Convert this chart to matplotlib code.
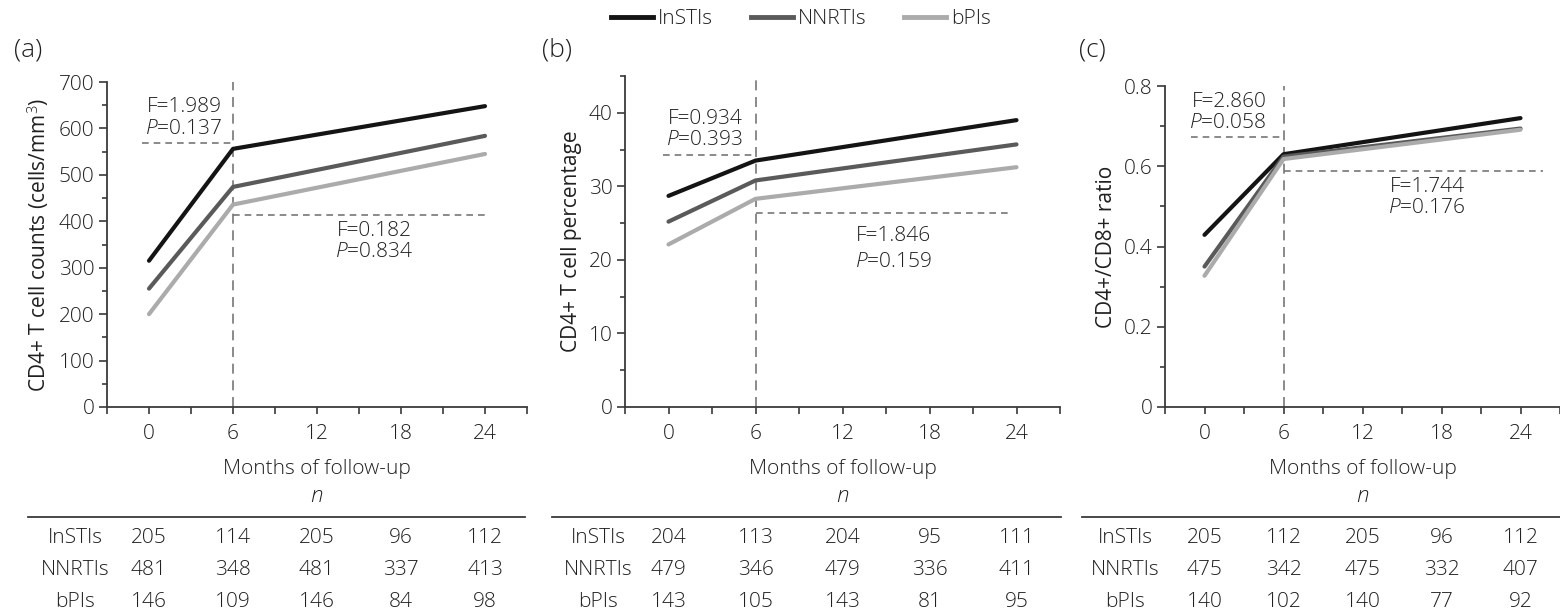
import matplotlib
matplotlib.use("Agg")
import matplotlib.pyplot as plt
from matplotlib.lines import Line2D
from matplotlib.transforms import blended_transform_factory

# Données
months = [0, 6, 24]
table_months = [0, 6, 12, 18, 24]
groups = ["InSTIs", "NNRTIs", "bPIs"]
colors = ["#141414", "#5a5a5a", "#ababab"]

# (a) CD4+ T cell counts
a_instis = [315, 556, 648]
a_nnrtis = [255, 474, 584]
a_bpis = [200, 436, 545]
# (b) CD4+ T cell percentage
b_instis = [28.7, 33.5, 39.0]
b_nnrtis = [25.2, 30.8, 35.7]
b_bpis = [22.1, 28.3, 32.6]
# (c) CD4+/CD8+ ratio
c_instis = [0.429, 0.630, 0.720]
c_nnrtis = [0.350, 0.624, 0.694]
c_bpis = [0.327, 0.618, 0.691]

# niveaux des lignes pointillées (avant / après 6 mois)
a_ref = [568, 414]
b_ref = [34.3, 26.4]
c_ref = [0.674, 0.589]

a_stats = [("1.989", "0.137"), ("0.182", "0.834")]
b_stats = [("0.934", "0.393"), ("1.846", "0.159")]
c_stats = [("2.860", "0.058"), ("1.744", "0.176")]

# effectifs n
a_n = [[205, 114, 205, 96, 112], [481, 348, 481, 337, 413], [146, 109, 146, 84, 98]]
b_n = [[204, 113, 204, 95, 111], [479, 346, 479, 336, 411], [143, 105, 143, 81, 95]]
c_n = [[205, 112, 205, 96, 112], [475, 342, 475, 332, 407], [140, 102, 140, 77, 92]]

FONT = 'Open Sans'
plt.rcParams['font.family'] = [FONT, 'DejaVu Sans']
plt.rcParams['font.weight'] = 'light'
plt.rcParams['mathtext.fontset'] = 'custom'
plt.rcParams['mathtext.rm'] = FONT + ':light'
plt.rcParams['mathtext.it'] = FONT + ':italic:light'
FS = 15
plt.rcParams['font.size'] = FS
TXT = "#202020"
AX = "#3a3a3a"

W, H = 1560, 615
fig = plt.figure(figsize=(W / 100, H / 100), dpi=100)


def px(x0, y0, x1, y1):
    # rectangle en pixels (origine en haut à gauche) -> coordonnées figure
    return [x0 / W, 1 - y1 / H, (x1 - x0) / W, (y1 - y0) / H]


panels = [
    dict(rect=px(107, 82, 527, 407), ylim=(0, 700), yt=range(0, 701, 100), ymin=50,
         series=[a_instis, a_nnrtis, a_bpis], ref=a_ref, stats=a_stats, n=a_n,
         ylabel="CD4+ T cell counts (cells/mm$^3$)", lab="(a)", labx=14,
         up=(5.2, 646, 599), low=(16.1, 379, 333), ref_x=(-0.5, 24.2),
         rowx=75, line=(28, 525), fmt="{:.0f}"),
    dict(rect=px(625, 76, 1060, 407), ylim=(0, 45), yt=range(0, 41, 10), ymin=5,
         series=[b_instis, b_nnrtis, b_bpis], ref=b_ref, stats=b_stats, n=b_n,
         ylabel="CD4+ T cell percentage", lab="(b)", labx=542,
         up=(5.1, 39.2, 36.3), low=(15.5, 23.2, 19.7), ref_x=(-0.4, 23.7),
         rowx=598, line=(552, 1061), fmt="{:.0f}"),
    dict(rect=px(1165, 86, 1560, 407), ylim=(0, 0.8), yt=[0, 0.2, 0.4, 0.6, 0.8], ymin=0.1,
         series=[c_instis, c_nnrtis, c_bpis], ref=c_ref, stats=c_stats, n=c_n,
         ylabel="CD4+/CD8+ ratio", lab="(c)", labx=1079,
         up=(4.7, 0.761, 0.709), low=(16.9, 0.549, 0.496), ref_x=(-1.0, 25.7),
         rowx=1125, line=(1082, 1560), fmt="{:g}"),
]

for p in panels:
    ax = fig.add_axes(p["rect"])
    ax.set_xlim(-3, 27)
    ax.set_ylim(*p["ylim"])
    for s in ["top", "right"]:
        ax.spines[s].set_visible(False)
    for s in ["left", "bottom"]:
        ax.spines[s].set_color(AX)
        ax.spines[s].set_linewidth(1.3)
    ax.set_xticks(table_months)
    ax.set_xticks([-3, 3, 9, 15, 21, 27], minor=True)
    ax.set_yticks(list(p["yt"]))
    ax.set_yticklabels([p["fmt"].format(v) for v in p["yt"]])
    ax.yaxis.set_minor_locator(matplotlib.ticker.MultipleLocator(p["ymin"]))
    ax.tick_params(axis="both", which="both", colors=AX, labelcolor=TXT, labelsize=FS, width=1.2)
    ax.tick_params(axis="y", which="major", length=6, pad=3)
    ax.tick_params(axis="y", which="minor", length=3.5)
    ax.tick_params(axis="x", which="both", length=5, pad=7)
    ax.set_ylabel(p["ylabel"], color=TXT, fontsize=FS, labelpad=5)

    # lignes de référence
    ax.axvline(6, color="#777777", lw=1.2, ls=(0, (6, 4)), zorder=1)
    ax.plot([p["ref_x"][0], 6], [p["ref"][0]] * 2, color="#777777", lw=1.2, ls=(0, (4, 3)), zorder=1)
    ax.plot([6, p["ref_x"][1]], [p["ref"][1]] * 2, color="#777777", lw=1.2, ls=(0, (4, 3)), zorder=1)

    for vals, c, g in zip(p["series"], colors, groups):
        ax.plot(months, vals, color=c, lw=3, solid_capstyle="round", solid_joinstyle="round", zorder=3)

    (f1, p1), (f2, p2) = p["stats"]
    ux, uy1, uy2 = p["up"]
    ax.text(ux, uy1, "F=" + f1, ha="right", va="center", color=TXT, fontsize=FS)
    ax.text(ux, uy2, "$P$=" + p1, ha="right", va="center", color=TXT, fontsize=FS)
    lx, ly1, ly2 = p["low"]
    ax.text(lx, ly1, "F=" + f2, ha="center", va="center", color=TXT, fontsize=FS)
    ax.text(lx, ly2, "$P$=" + p2, ha="center", va="center", color=TXT, fontsize=FS)

    # étiquette du panneau
    fig.text(p["labx"] / W, 1 - 50 / H, p["lab"], ha="left", va="center", color=TXT, fontsize=19)

    # titre de l'axe x et tableau des effectifs
    tr = blended_transform_factory(ax.transData, fig.transFigure)
    ax.text(12, 1 - 469 / H, "Months of follow-up", transform=tr, ha="center", va="center",
            color=TXT, fontsize=FS, clip_on=False)
    ax.text(12, 1 - 497 / H, "$n$", transform=tr, ha="center", va="center",
            color=TXT, fontsize=FS + 1, clip_on=False)
    fig.add_artist(Line2D([p["line"][0] / W, p["line"][1] / W], [1 - 517 / H] * 2,
                          color=AX, lw=1.3, transform=fig.transFigure))
    for row, (g, counts) in enumerate(zip(groups, p["n"])):
        yy = 1 - (538 + row * 32) / H
        fig.text(p["rowx"] / W, yy, g, ha="center", va="center", color=TXT, fontsize=FS)
        for m, v in zip(table_months, counts):
            ax.text(m, yy, str(v), transform=tr, ha="center", va="center",
                    color=TXT, fontsize=FS, clip_on=False)

handles = [Line2D([], [], color=c, lw=3.5) for c in colors]
fig.legend(handles, groups, loc="center", bbox_to_anchor=(801 / W, 1 - 19 / H), ncol=3,
           frameon=False, handlelength=2.0, handletextpad=0.25, columnspacing=1.8,
           labelcolor=TXT, fontsize=FS)

fig.savefig("out.png", dpi=100)
